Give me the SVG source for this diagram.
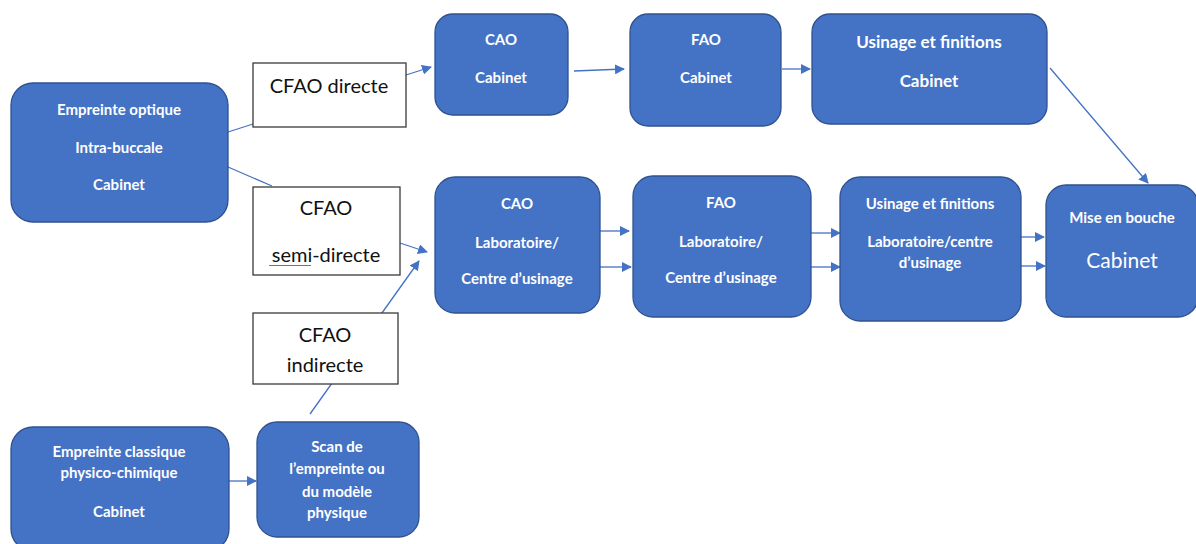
<svg xmlns="http://www.w3.org/2000/svg" width="1196" height="544" viewBox="0 0 1196 544">
<style>
.n{fill:#4472C4;stroke:#2F528F;stroke-width:1.3}
.l{fill:#ffffff;stroke:#3a3a3a;stroke-width:1.3}
.t{font-family:Lato,"Open Sans",sans-serif;font-weight:bold;font-size:15px;fill:#ffffff;text-anchor:middle}
.tb{font-size:17px}
.tr{font-family:Lato,"Open Sans",sans-serif;font-size:21px;fill:#ffffff;text-anchor:middle}
.lt{font-family:Lato,"Open Sans",sans-serif;font-size:20px;fill:#111111;text-anchor:middle}
.c{stroke:#4472C4;stroke-width:1.3;fill:none}
.a{stroke:#4472C4;stroke-width:1.3;fill:none;marker-end:url(#ah)}
</style>
<defs>
<marker id="ah" viewBox="0 0 10 10" refX="9" refY="5" markerWidth="10" markerHeight="10" markerUnits="userSpaceOnUse" orient="auto">
<path d="M0,0 L10,5 L0,10 z" fill="#4472C4"/>
</marker>
</defs>
<rect width="1196" height="544" fill="#ffffff"/>

<g id="connectors">
<line class="c" x1="228" y1="132" x2="253" y2="124"/>
<line class="c" x1="228" y1="167" x2="272" y2="186"/>
<line class="a" x1="406" y1="75" x2="431" y2="67"/>
<line class="a" x1="400" y1="243" x2="427" y2="252"/>
<line class="a" x1="310" y1="414" x2="419" y2="261"/>
<line class="a" x1="229" y1="481" x2="256" y2="481"/>
<line class="a" x1="574" y1="71" x2="624" y2="69"/>
<line class="a" x1="782" y1="69" x2="810" y2="69"/>
<line class="a" x1="1050" y1="68" x2="1148" y2="183"/>
<line class="a" x1="600" y1="231" x2="629" y2="231"/>
<line class="a" x1="600" y1="267" x2="631" y2="267"/>
<line class="a" x1="811" y1="233" x2="840" y2="233"/>
<line class="a" x1="811" y1="267" x2="840" y2="267"/>
<line class="a" x1="1021" y1="237" x2="1044" y2="237"/>
<line class="a" x1="1021" y1="266" x2="1045" y2="266"/>
</g>

<g id="lbl-directe">
<rect class="l" x="253" y="63" width="153" height="64"/>
<text class="lt" x="329" y="93">CFAO directe</text>
</g>
<g id="lbl-semi">
<rect class="l" x="253" y="187" width="147" height="88"/>
<text class="lt" x="326" y="215">CFAO</text>
<text class="lt" x="326" y="262">semi-directe</text>
<line x1="269" y1="265.5" x2="311" y2="265.5" stroke="#4a78d0" stroke-width="1.2"/>
</g>
<g id="lbl-indirecte">
<rect class="l" x="253" y="313" width="145" height="71"/>
<text class="lt" x="325" y="342">CFAO</text>
<text class="lt" x="325" y="372">indirecte</text>
</g>

<g id="n-optique">
<rect class="n" x="11" y="83" width="217" height="139" rx="22"/>
<text class="t" x="119" y="115">Empreinte optique</text>
<text class="t" x="119" y="153">Intra-buccale</text>
<text class="t" x="119" y="190">Cabinet</text>
</g>
<g id="n-classique">
<rect class="n" x="11" y="427" width="218" height="124" rx="22"/>
<text class="t" x="119" y="457">Empreinte classique</text>
<text class="t" x="119" y="478">physico-chimique</text>
<text class="t" x="119" y="517">Cabinet</text>
</g>
<g id="n-scan">
<rect class="n" x="257" y="422" width="162" height="115" rx="20"/>
<text class="t" x="337" y="452">Scan de</text>
<text class="t" x="337" y="474">l’empreinte ou</text>
<text class="t" x="337" y="497">du modèle</text>
<text class="t" x="337" y="518">physique</text>
</g>

<g id="n-cao-cab">
<rect class="n" x="435" y="14" width="133" height="101" rx="18"/>
<text class="t" x="501" y="45">CAO</text>
<text class="t" x="501" y="83">Cabinet</text>
</g>
<g id="n-fao-cab">
<rect class="n" x="630" y="14" width="151" height="112" rx="18"/>
<text class="t" x="706" y="45">FAO</text>
<text class="t" x="706" y="83">Cabinet</text>
</g>
<g id="n-usi-cab">
<rect class="n" x="812" y="14" width="235" height="110" rx="18"/>
<text class="t tb" x="929" y="48">Usinage et finitions</text>
<text class="t tb" x="929" y="87">Cabinet</text>
</g>

<g id="n-cao-lab">
<rect class="n" x="435" y="177" width="165" height="136" rx="20"/>
<text class="t" x="517" y="209">CAO</text>
<text class="t" x="517" y="248">Laboratoire/</text>
<text class="t" x="517" y="284">Centre d’usinage</text>
</g>
<g id="n-fao-lab">
<rect class="n" x="633" y="176" width="178" height="141" rx="20"/>
<text class="t" x="721" y="208">FAO</text>
<text class="t" x="721" y="247">Laboratoire/</text>
<text class="t" x="721" y="283">Centre d’usinage</text>
</g>
<g id="n-usi-lab">
<rect class="n" x="840" y="177" width="181" height="144" rx="20"/>
<text class="t" x="930" y="209">Usinage et finitions</text>
<text class="t" x="930" y="247">Laboratoire/centre</text>
<text class="t" x="930" y="268">d’usinage</text>
</g>
<g id="n-bouche">
<rect class="n" x="1046" y="185" width="152" height="132" rx="20"/>
<text class="t" x="1122" y="223">Mise en bouche</text>
<text class="tr" x="1122" y="268">Cabinet</text>
</g>
</svg>
